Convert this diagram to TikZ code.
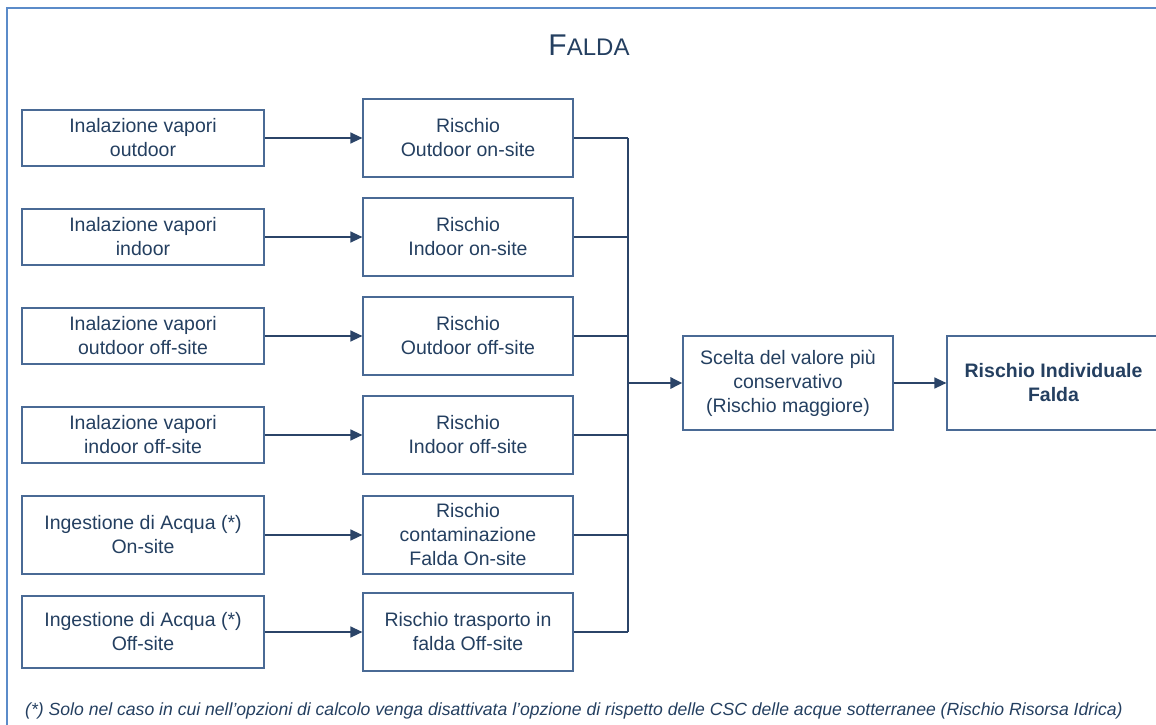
\documentclass[tikz,border=0pt]{standalone}
\usepackage{fontspec}
\setmainfont{Liberation Sans}
\usetikzlibrary{positioning,arrows.meta}
\definecolor{frameBlue}{HTML}{5B8BC9}
\definecolor{boxLine}{HTML}{4A6A95}
\definecolor{textBlue}{HTML}{243F60}
\definecolor{wireBlue}{HTML}{2B4468}
\newcommand\busX{628}
\newcommand\busMidY{383}
\newcommand{\boxFont}{\fontsize{19.5}{24}\selectfont}
\tikzset{
		boxStyle/.style  = {draw=boxLine, line width=1.2pt, align=center, text=textBlue, font=\boxFont, inner sep=2pt},
		inputBox/.style  = {boxStyle, minimum width=242pt},
		riskBox/.style   = {boxStyle, minimum width=210pt, minimum height=78pt},
		wireStyle/.style = {draw=wireBlue, line width=1.3pt},
		arrowStyle/.style = {wireStyle, -{Triangle[length=12pt,width=11pt]}}
}

\begin{document}
\begin{tikzpicture}[x=1pt,y=-1pt]
  \useasboundingbox (0,0) rectangle (1156,725);
  \clip (0,0) rectangle (1156,725);

  % outer frame
  \draw[frameBlue, line width=2pt] (7,8) rectangle (1175,745);

  % title
  \node[text=textBlue] (title) at (589,45) {{\fontsize{30}{30}\selectfont F}{\fontsize{24}{24}\selectfont ALDA}};

  % input boxes, risk boxes and their wires
  \foreach \i/\y/\h/\inText/\riText in {
      1/138/56/{Inalazione vapori\\outdoor}/{Rischio\\Outdoor on-site},
      2/237/56/{Inalazione vapori\\indoor}/{Rischio\\Indoor on-site},
      3/336/56/{Inalazione vapori\\outdoor off-site}/{Rischio\\Outdoor off-site},
      4/435/56/{Inalazione vapori\\indoor off-site}/{Rischio\\Indoor off-site},
      5/535/78/{Ingestione di Acqua (*)\\On-site}/{Rischio\\contaminazione\\Falda On-site},
      6/632/72/{Ingestione di Acqua (*)\\Off-site}/{Rischio trasporto in\\falda Off-site}}
    {
      \node [inputBox, minimum height=\h pt] (in\i) at (143,\y) {\inText};
      \node [riskBox] (ri\i) at (468,\y) {\riText};
      \coordinate (bus\i) at (\busX,\y);
      \draw [arrowStyle] (in\i) -- (ri\i);
      \draw [wireStyle] (ri\i.east) -- (bus\i);
    }

  % collecting bus
  \draw [wireStyle, line width=1.8pt] (bus1) -- (bus6);
  \coordinate (busMid) at (\busX,\busMidY);

  % choice and result
  \node [boxStyle, minimum width=210pt, minimum height=94pt] (scelta) at (788,\busMidY) {Scelta del valore più\\conservativo\\(Rischio maggiore)};
  \node [boxStyle, minimum width=213pt, minimum height=94pt, font=\boxFont\bfseries] (result) at (1053.5,\busMidY) {Rischio Individuale\\Falda};
  \draw [arrowStyle, line width=2.8pt] (busMid) -- (scelta);
  \draw [arrowStyle] (scelta) -- (result);

  % footnote
  \node [anchor=base west, inner sep=0pt, text=textBlue, font=\fontsize{17.6}{20}\selectfont\itshape] (note) at (25,715) {(*) Solo nel caso in cui nell'opzioni di calcolo venga disattivata l'opzione di rispetto delle CSC delle acque sotterranee (Rischio Risorsa Idrica)};
\end{tikzpicture}
\end{document}
